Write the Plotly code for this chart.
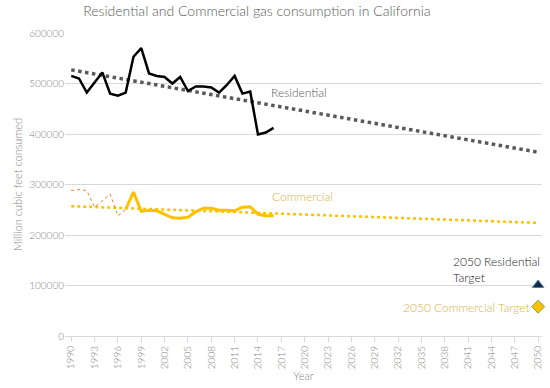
import plotly.graph_objects as go

years = list(range(1990, 2017))
residential = [515000, 510000, 482000, 502000, 522000, 480000, 476000, 482000, 553000, 570000,
               520000, 515000, 513000, 500000, 513000, 485000, 494000, 494000, 492000, 482000,
               497000, 515000, 480000, 484000, 399000, 403000, 412000]

comm_early_years = [1990, 1991, 1992, 1993, 1994, 1995, 1996, 1997]
comm_early = [288000, 290000, 288000, 255000, 268000, 281000, 238000, 251000]

comm_years = list(range(1997, 2017))
commercial = [251000, 285000, 247000, 249000, 248000, 241000, 234000, 233000, 235000, 246000,
              253000, 253000, 249000, 249000, 248000, 255000, 256000, 241000, 238000, 238000]

trend_years = [1990, 2050]
res_trend = [527000, 364000]
comm_trend = [257000, 224000]

target_year = [2050]
res_target = [101000]
comm_target = [58000]

tick_years = list(range(1990, 2051, 3))

grey = "#858585"
font_family = "Lato, 'Open Sans', sans-serif"

fig = go.Figure()
fig.add_trace(go.Scatter(x=trend_years, y=res_trend, mode="lines",
                         line=dict(color="#595959", width=3.5, dash="dot")))
fig.add_trace(go.Scatter(x=years, y=residential, mode="lines",
                         line=dict(color="black", width=2.5)))
fig.add_trace(go.Scatter(x=trend_years, y=comm_trend, mode="lines",
                         line=dict(color="#ffc000", width=2.5, dash="dot")))
fig.add_trace(go.Scatter(x=comm_early_years, y=comm_early, mode="lines",
                         line=dict(color="#ed7d31", width=1, dash="dot")))
fig.add_trace(go.Scatter(x=comm_years, y=commercial, mode="lines",
                         line=dict(color="#ffc000", width=3)))
fig.add_trace(go.Scatter(x=target_year, y=res_target, mode="markers", cliponaxis=False,
                         marker=dict(symbol="triangle-up", size=10, color="#1b2a3a",
                                     line=dict(color="#4a7ebb", width=1))))
fig.add_trace(go.Scatter(x=target_year, y=comm_target, mode="markers", cliponaxis=False,
                         marker=dict(symbol="diamond", size=10, color="#ffc000",
                                     line=dict(color="#70ad47", width=1))))

fig.add_annotation(x=2015.4, y=483000, text="Residential", showarrow=False, xanchor="left",
                   font=dict(color="#595959", size=12, family=font_family, weight=300))
fig.add_annotation(x=2015.6, y=277000, text="Commercial", showarrow=False, xanchor="left",
                   font=dict(color="#dcb24a", size=12, family=font_family, weight=300))
fig.add_annotation(x=2038.8, y=132000, text="2050 Residential<br>Target", showarrow=False,
                   xanchor="left", align="left",
                   font=dict(color="#262626", size=12, family=font_family, weight=300))
fig.add_annotation(x=2049.2, y=56000, text="2050 Commercial Target", showarrow=False,
                   xanchor="right",
                   font=dict(color="#dcb24a", size=12, family=font_family, weight=300))

fig.update_layout(
    width=550, height=388,
    margin=dict(l=65, r=8, t=33, b=52),
    paper_bgcolor="white", plot_bgcolor="white",
    showlegend=False,
    font=dict(family=font_family, color=grey, size=11, weight=300),
    title=dict(text="Residential and Commercial gas consumption in California",
               xref="container", x=0.467, xanchor="center", y=0.985, yanchor="top",
               font=dict(size=14, color="#595959", family=font_family, weight=300)),
)
fig.update_xaxes(range=[1989.2, 2050.5], tickmode="array", tickvals=tick_years,
                 tickangle=-90, showgrid=False, zeroline=False, automargin=False,
                 showline=True, linecolor="#d9d9d9", ticks="outside", ticklen=5,
                 tickcolor="#d9d9d9", tickfont=dict(size=10, color=grey, weight=300),
                 title=dict(text="Year", font=dict(size=11, color=grey, weight=300), standoff=2))
fig.update_yaxes(range=[0, 600000], dtick=100000, showgrid=True, gridcolor="#d9d9d9",
                 zeroline=False, showline=False, tickformat="d", automargin=False,
                 tickfont=dict(size=10, color=grey, weight=300),
                 title=dict(text="Million cubic feet consumed", font=dict(size=11, color=grey, weight=300),
                            standoff=4))

fig.write_html("out.html", config={"displayModeBar": False},
               post_script="document.body.style.margin='0';document.body.style.overflow='hidden';")
